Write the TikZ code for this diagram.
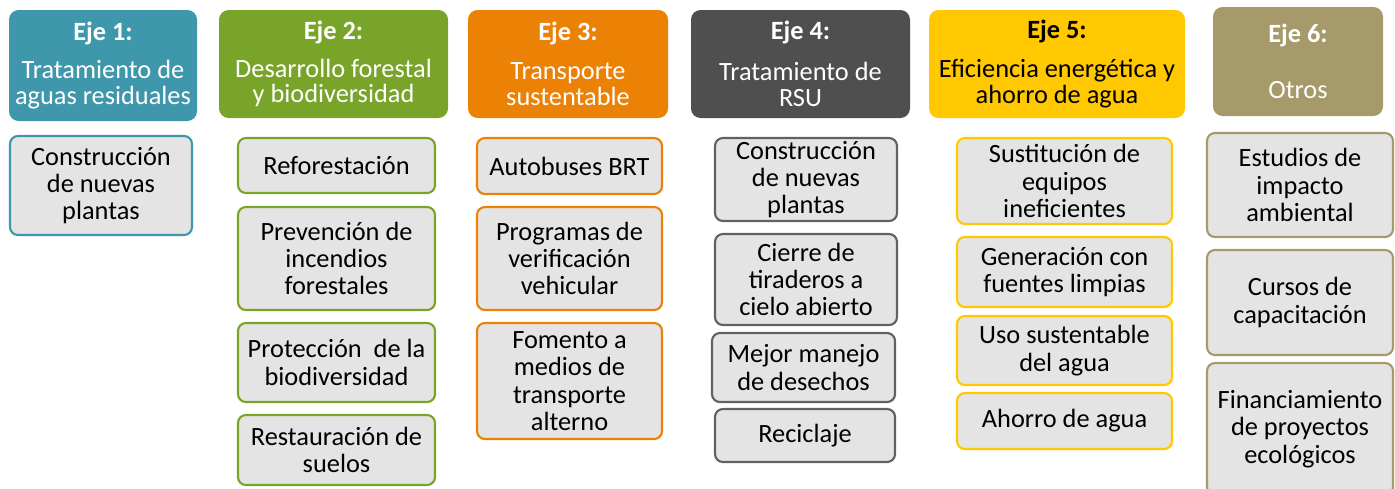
\documentclass[tikz,border=0pt]{standalone}
\usepackage{fontspec}
\setmainfont{Carlito}
\usepackage{xcolor}
\usepackage{tikz}

\definecolor{ejeA}{HTML}{3F97AC}
\definecolor{ejeB}{HTML}{79A42A}
\definecolor{ejeC}{HTML}{EB8105}
\definecolor{ejeD}{HTML}{4F4F4F}
\definecolor{ejeE}{HTML}{FFC800}
\definecolor{ejeF}{HTML}{A69A6A}
\definecolor{itemfill}{HTML}{E4E4E4}

\begin{document}
\begin{tikzpicture}[x=0.02cm,y=-0.02cm,
  dims/.style 2 args={minimum width=#1*0.02cm,minimum height=#2*0.02cm},
  eje node/.style={rounded corners=5.5pt,inner sep=1pt,align=center,text=white,
    font=\fontsize{15}{14.7}\selectfont},
  item node/.style={draw,line width=1.2pt,rounded corners=4.5pt,fill=itemfill,
    align=center,inner sep=1pt,font=\fontsize{15}{15.6}\selectfont}]
  \useasboundingbox[fill=white] (0,0) rectangle (1395,488);

  % ejes
  \node[eje node,fill=ejeA,dims={188}{111}] (e1) at (103,65.5)
    {\textbf{Eje 1:}\\[7.4pt] Tratamiento de\\ aguas residuales};
  \node[eje node,fill=ejeB,dims={229}{108}] (e2) at (333.5,64)
    {\textbf{Eje 2:}\\[6.8pt] Desarrollo forestal\\ y biodiversidad};
  \node[eje node,fill=ejeC,dims={200}{108}] (e3) at (568,64)
    {\textbf{Eje 3:}\\[7.4pt] Transporte\\ sustentable};
  \node[eje node,fill=ejeD,dims={219}{108}] (e4) at (800.5,64)
    {\textbf{Eje 4:}\\[8.5pt] Tratamiento de\\ RSU};
  \node[eje node,fill=ejeE,text=black,dims={256}{108}] (e5) at (1057,64)
    {\textbf{Eje 5:}\\[7.9pt] Eficiencia energética y\\ ahorro de agua};
  \node[eje node,fill=ejeF,dims={170}{109}] (e6) at (1298,61.5)
    {\textbf{Eje 6:}\\[17pt] Otros};

  % acciones
  \node[item node,draw=ejeA,dims={182}{99}] (e1a) at (101,185.5)
    {Construcción\\ de nuevas\\ plantas};

  \node[item node,draw=ejeB,dims={197}{55}] (e2a) at (336.5,165.5) {Reforestación};
  \node[item node,draw=ejeB,dims={197}{103}] (e2b) at (336.5,258.5)
    {Prevención de\\ incendios\\ forestales};
  \node[item node,draw=ejeB,dims={197}{79}] (e2c) at (336.5,362.5)
    {Protección \ de la\\ biodiversidad};
  \node[item node,draw=ejeB,dims={197}{70}] (e2d) at (336.5,450)
    {Restauración de\\ suelos};

  \node[item node,draw=ejeC,dims={185}{56}] (e3a) at (569.5,166) {Autobuses BRT};
  \node[item node,draw=ejeC,dims={185}{103}] (e3b) at (569.5,258.5)
    {Programas de\\ verificación\\ vehicular};
  \node[item node,draw=ejeC,dims={185}{116}] (e3c) at (569.5,381)
    {Fomento a\\ medios de\\ transporte\\ alterno};

  \node[item node,draw=ejeD!90,dims={182}{83}] (e4a) at (806,179.5)
    {Construcción\\ de nuevas\\ plantas};
  \node[item node,draw=ejeD!90,dims={182}{91}] (e4b) at (806,279.5)
    {Cierre de\\ tiraderos a\\ cielo abierto};
  \node[item node,draw=ejeD!90,dims={183}{69}] (e4c) at (803.5,367.5)
    {Mejor manejo\\ de desechos};
  \node[item node,draw=ejeD!90,dims={180}{53}] (e4d) at (805,435.5) {Reciclaje};

  \node[item node,draw=ejeE,dims={215}{86}] (e5a) at (1064.5,181)
    {Sustitución de\\ equipos\\ ineficientes};
  \node[item node,draw=ejeE,dims={215}{70}] (e5b) at (1064.5,272)
    {Generación con\\ fuentes limpias};
  \node[item node,draw=ejeE,dims={215}{69}] (e5c) at (1064.5,350.5)
    {Uso sustentable\\ del agua};
  \node[item node,draw=ejeE,dims={215}{56}] (e5d) at (1064.5,421) {Ahorro de agua};

  \node[item node,draw=ejeF,dims={186}{104}] (e6a) at (1300,185)
    {Estudios de\\ impacto\\ ambiental};
  \node[item node,draw=ejeF,dims={186}{105}] (e6b) at (1300,302.5)
    {Cursos de\\ capacitación};
  \node[item node,draw=ejeF,dims={186}{132}] (e6c) at (1300,429)
    {Financiamiento\\ de proyectos\\ ecológicos};
\end{tikzpicture}
\end{document}
